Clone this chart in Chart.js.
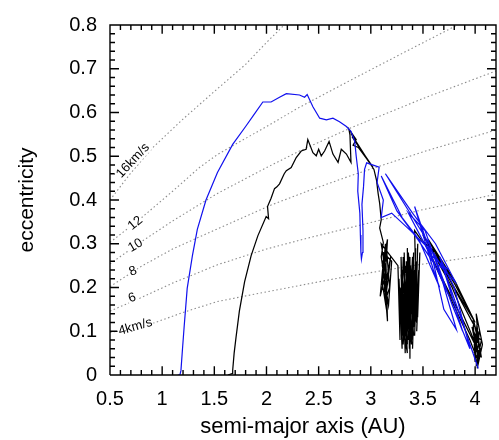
<!DOCTYPE html>
<html>
<head>
<meta charset="utf-8">
<script src="https://cdn.jsdelivr.net/npm/chart.js@4/dist/chart.umd.min.js"></script>
<style>
html, body { margin: 0; padding: 0; background: #fff; }
#wrap { width: 499px; height: 440px; }
</style>
</head>
<body>
<div id="wrap"><canvas id="orbitChart" width="499" height="440"></canvas></div>
<script>
// axis ranges and tick steps
var X_MIN = 0.5, X_MAX = 4.2, X_MINOR = 0.1, X_MAJOR = 0.5;
var Y_MIN = 0, Y_MAX = 0.8, Y_MINOR = 0.02, Y_MAJOR = 0.1;
var xTitle = "semi-major axis (AU)";
var yTitle = "eccentricity";

// constant encounter-velocity curves, [a, e]
var velLabels = ["16km/s", "12", "10", "8", "6", "4km/s"];
var vel16 = [[0.5,0.40],[0.7,0.462],[0.92,0.522],[1.2,0.585],[1.5,0.648],[1.8,0.71],[2.0,0.76],[2.17,0.8]];
var vel12 = [[0.5,0.303],[0.79,0.357],[1.1,0.42],[1.356,0.474],[1.53,0.504],[2.0,0.568],[2.317,0.612],[2.8,0.673],[3.3,0.735],[3.83,0.8]];
var vel10 = [[0.5,0.254],[0.79,0.303],[1.1,0.352],[1.53,0.415],[2.0,0.474],[2.317,0.512],[2.8,0.564],[3.5,0.632],[4.2,0.695]];
var vel8 = [[0.5,0.202],[0.79,0.247],[1.1,0.288],[1.53,0.334],[2.06,0.39],[2.413,0.422],[2.8,0.455],[3.5,0.51],[4.2,0.56]];
var vel6 = [[0.5,0.146],[0.79,0.176],[1.1,0.21],[1.53,0.252],[2.0,0.288],[2.413,0.314],[2.94,0.345],[3.5,0.378],[4.2,0.413]];
var vel4 = [[0.5,0.097],[0.888,0.116],[1.2,0.143],[1.53,0.168],[2.0,0.19],[2.413,0.209],[2.7,0.222],[3.4,0.25],[4.2,0.277]];

// blue track
var blueTrack = [[1.15,0],[1.17,0],[1.18,0.01],[1.195,0.06],[1.21,0.108],[1.24,0.198],[1.29,0.273],[1.337,0.333],
  [1.42,0.40],[1.53,0.463],[1.676,0.527],[1.80,0.568],[1.88,0.595],[1.965,0.624],[2.044,0.624],[2.125,0.635],
  [2.19,0.643],[2.317,0.64],[2.365,0.635],[2.39,0.641],[2.445,0.613],[2.51,0.587],[2.574,0.583],[2.637,0.587],
  [2.70,0.579],[2.766,0.568],[2.81,0.557],[2.846,0.534],[2.86,0.50],[2.88,0.46],[2.875,0.42],[2.895,0.37],
  [2.90,0.32],[2.905,0.28],[2.91,0.265],[2.92,0.28],[2.925,0.33],[2.915,0.39],[2.93,0.43],[2.94,0.47],
  [2.96,0.485],[3.08,0.475],[3.06,0.44],[3.12,0.40],[3.10,0.36],[3.20,0.37],[3.38,0.33],[3.55,0.29],
  [3.62,0.25],[3.45,0.31],[3.25,0.375],[3.10,0.455],[3.30,0.36],[3.46,0.31],[3.66,0.20],[3.60,0.24],
  [3.42,0.385],[3.50,0.33],[3.58,0.273],[3.73,0.243],[3.66,0.25],[3.81,0.213],[3.62,0.30],[3.40,0.37],
  [3.14,0.46],[3.35,0.38],[3.56,0.30],[3.70,0.15],[3.82,0.104],[3.68,0.22],[3.52,0.33],[3.36,0.37],
  [3.58,0.27],[3.75,0.18],[3.88,0.10],[3.70,0.24],[3.60,0.28],[3.78,0.16],[3.95,0.06],[3.80,0.20],
  [3.66,0.27],[3.85,0.14],[4.03,0.015]];

// black track
var blackTrack = [[1.63,0.0],[1.67,0.003],[1.676,0.011],[1.69,0.05],[1.708,0.086],[1.74,0.146],[1.79,0.213],
  [1.853,0.273],[1.917,0.318],[1.997,0.362],[2.02,0.357],[2.01,0.385],[2.044,0.404],[2.077,0.426],[2.10,0.43],
  [2.125,0.437],[2.17,0.46],[2.19,0.467],[2.237,0.474],[2.285,0.497],[2.333,0.512],[2.38,0.516],[2.396,0.538],
  [2.445,0.508],[2.477,0.501],[2.50,0.516],[2.525,0.501],[2.557,0.512],[2.60,0.534],[2.637,0.505],[2.686,0.486],
  [2.717,0.516],[2.766,0.505],[2.81,0.486],[2.80,0.549],[2.79,0.562],[2.86,0.538],[2.83,0.525],[2.88,0.52],
  [3.02,0.475],[2.82,0.545],[3.00,0.48],[2.81,0.552],[3.03,0.47],[3.055,0.445],[3.07,0.415],[3.085,0.392],
  [3.10,0.355],[3.085,0.336],[3.12,0.303],[3.10,0.27],[3.13,0.22],[3.09,0.18],[3.12,0.26],[3.15,0.15],
  [3.11,0.21],[3.14,0.30],[3.16,0.123],[3.12,0.24],[3.15,0.29],[3.18,0.20],[3.14,0.17],[3.19,0.27],
  [3.13,0.19],[3.16,0.31],[3.11,0.25],[3.17,0.16],[3.20,0.26],[3.12,0.28],[3.15,0.22],[3.10,0.30],
  [3.26,0.25],[3.28,0.08],[3.27,0.22],[3.30,0.06],[3.29,0.27],[3.31,0.10],[3.30,0.24],[3.33,0.05],
  [3.32,0.28],[3.34,0.09],[3.33,0.21],[3.35,0.07],[3.34,0.26],[3.36,0.11],[3.35,0.29],[3.37,0.06],
  [3.36,0.23],[3.38,0.09],[3.37,0.27],[3.375,0.037],[3.38,0.25],[3.40,0.12],[3.41,0.28],[3.39,0.08],
  [3.42,0.24],[3.40,0.06],[3.43,0.29],[3.41,0.11],[3.44,0.26],[3.42,0.09],[3.45,0.30],[3.43,0.13],
  [3.46,0.24],[3.44,0.10],[3.47,0.28],[3.45,0.14],[3.31,0.26],[3.29,0.12],[3.33,0.25],[3.31,0.07],
  [3.35,0.22],[3.33,0.10],[3.28,0.20],[3.30,0.09],[3.36,0.26],[3.34,0.06],[3.38,0.22],[3.36,0.08],
  [3.40,0.27],[3.38,0.12],[3.32,0.18],[3.35,0.05],[3.27,0.18],[3.32,0.08],[3.29,0.23],[3.34,0.12],
  [3.31,0.27],[3.37,0.10],[3.34,0.24],[3.39,0.07],[3.36,0.28],[3.41,0.09],[3.38,0.19],[3.44,0.12],
  [3.42,0.33],[3.48,0.31],[3.62,0.28],[3.80,0.21],
  [3.98,0.13],[4.00,0.03],[4.02,0.12],[3.99,0.05],[4.04,0.10],[4.01,0.02],[4.06,0.08],[4.00,0.09],
  [4.03,0.04],[3.97,0.11],[4.05,0.06],[4.02,0.015],[4.07,0.07],[4.01,0.14],[4.03,0.08],[3.99,0.12],
  [4.06,0.04],[4.02,0.10],[3.55,0.31],[3.81,0.213],[4.00,0.12],[3.50,0.32],[3.78,0.20],[4.04,0.05],
  [3.52,0.30],[3.95,0.08],[4.03,0.03]];

function toPoints(arr) {
    return arr.map(function (p) { return { x: p[0], y: p[1] }; });
}

function isMajor(v, step) {
    var r = v / step;
    return Math.abs(r - Math.round(r)) < 1e-6;
}

// plot box along the axis limits, plus inward tick marks (px lengths turned into data units)
function frameSegments(xPerPx, yPerPx) {
    var pts = [{ x: X_MIN, y: Y_MIN }, { x: X_MAX, y: Y_MIN }, { x: X_MAX, y: Y_MAX },
               { x: X_MIN, y: Y_MAX }, { x: X_MIN, y: Y_MIN }, { x: X_MIN, y: null }];
    var n = Math.round((X_MAX - X_MIN) / X_MINOR);
    for (var i = 1; i < n; i++) {
        var v = +(X_MIN + i * X_MINOR).toFixed(2);
        var len = (isMajor(v, X_MAJOR) ? 9 : 5) * yPerPx;
        pts.push({ x: v, y: Y_MIN }, { x: v, y: Y_MIN + len }, { x: v, y: null });
        pts.push({ x: v, y: Y_MAX }, { x: v, y: Y_MAX - len }, { x: v, y: null });
    }
    var m = Math.round((Y_MAX - Y_MIN) / Y_MINOR);
    for (var j = 1; j < m; j++) {
        var w = +(Y_MIN + j * Y_MINOR).toFixed(2);
        var lx = (isMajor(w, Y_MAJOR) ? 9 : 5) * xPerPx;
        pts.push({ x: X_MIN, y: w }, { x: X_MIN + lx, y: w }, { x: X_MIN, y: null });
        pts.push({ x: X_MAX, y: w }, { x: X_MAX - lx, y: w }, { x: X_MAX, y: null });
    }
    return pts;
}

var FONT = '"Liberation Sans", Arial, sans-serif';

var velCurves = [vel16, vel12, vel10, vel8, vel6, vel4];
var datasets = velCurves.map(function (c, i) {
    return {
        label: velLabels[i],
        data: toPoints(c),
        showLine: true,
        pointRadius: 0,
        borderColor: "#8c8c8c",
        borderWidth: 1.1,
        borderDash: [1.5, 2.5],
        order: 4
    };
});
datasets.push({ label: "black", data: toPoints(blackTrack), showLine: true, pointRadius: 0,
    borderColor: "#000000", borderWidth: 1.25, order: 2 });
datasets.push({ label: "blue", data: toPoints(blueTrack), showLine: true, pointRadius: 0,
    borderColor: "#1010ee", borderWidth: 1.2, order: 1 });
// 386 x 357 px plot box
datasets.push({ label: "frame", data: frameSegments((X_MAX - X_MIN) / 386, (Y_MAX - Y_MIN) / 357),
    showLine: true, spanGaps: false, pointRadius: 0, borderColor: "#000", borderWidth: 1.4,
    clip: 4, order: 0 });

// where the curve labels sit (data coords) and their rotation in degrees
var labelPlace = [
    { a: 0.72, e: 0.49, rot: -47 },
    { a: 0.743, e: 0.347, rot: -40 },
    { a: 0.743, e: 0.296, rot: -30 },
    { a: 0.721, e: 0.237, rot: -22 },
    { a: 0.712, e: 0.176, rot: -20 },
    { a: 0.743, e: 0.11, rot: -16 }
];

// curve labels and axis titles
var decorPlugin = {
    id: "decor",
    afterDatasetsDraw: function (chart) {
        var ctx = chart.ctx, a = chart.chartArea;
        var xs = chart.scales.x, ys = chart.scales.y;
        ctx.save();
        ctx.font = "13px " + FONT;
        ctx.textAlign = "center";
        ctx.textBaseline = "middle";
        velLabels.forEach(function (txt, i) {
            var p = labelPlace[i];
            var px = xs.getPixelForValue(p.a), py = ys.getPixelForValue(p.e);
            var w = ctx.measureText(txt).width;
            ctx.save();
            ctx.translate(px, py);
            ctx.rotate(p.rot * Math.PI / 180);
            ctx.fillStyle = "#fff";
            ctx.fillRect(-w / 2 - 1, -6, w + 2, 12);
            ctx.fillStyle = "#000";
            ctx.fillText(txt, 0, 0);
            ctx.restore();
        });

        ctx.fillStyle = "#000";
        ctx.textAlign = "center";
        ctx.textBaseline = "alphabetic";
        ctx.font = "22px " + FONT;
        ctx.fillText(xTitle, (a.left + a.right) / 2, 433);
        ctx.save();
        ctx.translate(33, (a.top + a.bottom) / 2);
        ctx.rotate(-Math.PI / 2);
        ctx.font = "21px " + FONT;
        ctx.fillText(yTitle, 0, 0);
        ctx.restore();
        ctx.restore();
    }
};

new Chart(document.getElementById("orbitChart").getContext("2d"), {
    type: "scatter",
    data: { datasets: datasets },
    options: {
        responsive: false,
        animation: false,
        layout: { padding: { top: 18, right: 3, left: 0, bottom: 0 } },
        plugins: { legend: { display: false }, tooltip: { enabled: false } },
        elements: { line: { tension: 0 } },
        scales: {
            x: {
                type: "linear", min: X_MIN, max: X_MAX,
                grid: { display: false, drawTicks: false },
                border: { display: false },
                ticks: {
                    stepSize: X_MINOR, autoSkip: false, maxRotation: 0, padding: 12,
                    color: "#000", font: { family: FONT, size: 20 },
                    callback: function (v) { return isMajor(v, X_MAJOR) ? String(+v.toFixed(1)) : ""; }
                },
                afterFit: function (s) { s.height = 65; s.paddingLeft = 0; s.paddingRight = 0; }
            },
            y: {
                type: "linear", min: Y_MIN, max: Y_MAX,
                grid: { display: false, drawTicks: false },
                border: { display: false },
                ticks: {
                    stepSize: Y_MINOR, autoSkip: false, padding: 13,
                    color: "#000", font: { family: FONT, size: 20 },
                    callback: function (v) { return isMajor(v, Y_MAJOR) ? String(+v.toFixed(1)) : ""; }
                },
                afterFit: function (s) { s.width = 110; }
            }
        }
    },
    plugins: [decorPlugin]
});
</script>
</body>
</html>
